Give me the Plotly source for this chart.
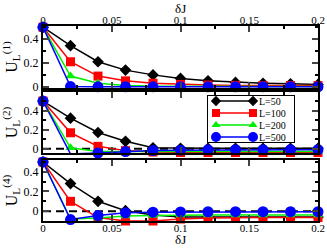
import plotly.graph_objects as go

dJ = [0, 0.02, 0.04, 0.06, 0.08, 0.10, 0.12, 0.14, 0.16, 0.18, 0.20]
labels = ["L=50", "L=100", "L=200", "L=500"]
x_ticks = [0, 0.05, 0.1, 0.15, 0.2]
y_ticks = [0, 0.2, 0.4]

# U_L^(1)
u1_L50 = [0.50, 0.345, 0.21, 0.14, 0.10, 0.07, 0.05, 0.037, 0.03, 0.025, 0.02]
u1_L100 = [0.50, 0.21, 0.09, 0.05, 0.03, 0.02, 0.015, 0.012, 0.01, 0.01, 0.01]
u1_L200 = [0.50, 0.09, 0.03, 0.012, 0.006, 0.004, 0.003, 0.003, 0.003, 0.003, 0.003]
u1_L500 = [0.50, 0.002, 0.0, 0.0, 0.0, 0.0, 0.0, 0.0, 0.0, 0.0, 0.0]

# U_L^(2)
u2_L50 = [0.50, 0.32, 0.17, 0.078, 0.01, 0.005, 0.005, 0.005, 0.005, 0.005, 0.005]
u2_L100 = [0.50, 0.167, 0.025, -0.02, -0.035, -0.04, -0.04, -0.04, -0.04, -0.04, -0.04]
u2_L200 = [0.50, 0.01, -0.03, -0.03, -0.03, -0.03, -0.03, -0.03, -0.03, -0.03, -0.03]
u2_L500 = [0.50, -0.055, -0.045, -0.03, -0.02, -0.015, -0.012, -0.01, -0.01, -0.01, -0.01]

# U_L^(4)
u4_L50 = [0.50, 0.28, 0.10, 0.005, -0.04, -0.06, -0.06, -0.06, -0.06, -0.06, -0.06]
u4_L100 = [0.50, 0.10, -0.065, -0.10, -0.10, -0.08, -0.07, -0.065, -0.065, -0.065, -0.065]
u4_L200 = [0.50, -0.08, -0.07, -0.05, -0.045, -0.04, -0.04, -0.04, -0.04, -0.04, -0.04]
u4_L500 = [0.50, -0.085, -0.045, -0.017, -0.01, -0.008, -0.006, -0.005, -0.005, -0.005, -0.005]

panels = [
    [u1_L50, u1_L100, u1_L200, u1_L500],
    [u2_L50, u2_L100, u2_L200, u2_L500],
    [u4_L50, u4_L100, u4_L200, u4_L500],
]
colors = ["#000000", "#ff0000", "#00ee00", "#0000ff"]
symbols = ["diamond", "square", "triangle-up", "circle"]
msizes = [9, 9, 9, 11]

FONT = "Liberation Serif"
fig = go.Figure()

# compact legend box (Grace style: symbol - line - symbol, then label)
LW, LH = 88, 48
row_y = [42, 30, 18, 6]
fig.add_shape(type="rect", xref="x4", yref="y4", x0=0, x1=LW, y0=0, y1=LH,
              line=dict(color="black", width=2), fillcolor="white", layer="below")

for p, series in enumerate(panels):
    ax = "" if p == 0 else str(p + 1)
    for i, ys in enumerate(series):
        fig.add_trace(go.Scatter(
            x=dJ, y=ys, mode="lines+markers", name=labels[i],
            xaxis="x" + ax, yaxis="y" + ax,
            line=dict(color=colors[i], width=1.5),
            marker=dict(symbol=symbols[i], size=msizes[i], color=colors[i]),
            showlegend=False, cliponaxis=False,
        ))

for i in range(4):
    fig.add_trace(go.Scatter(
        x=[9, 46], y=[row_y[i], row_y[i]], mode="lines+markers",
        xaxis="x4", yaxis="y4", showlegend=False, hoverinfo="skip",
        line=dict(color=colors[i], width=1.5),
        marker=dict(symbol=symbols[i], size=msizes[i] - 1, color=colors[i]),
        cliponaxis=False,
    ))
    fig.add_annotation(x=51, y=row_y[i], xref="x4", yref="y4", text=labels[i],
                       showarrow=False, xanchor="left", yanchor="middle", borderpad=0,
                       font=dict(family=FONT, size=10, color="black"))

H = 195.0
# x axis titles (top and bottom)
fig.add_annotation(x=0.5, y=1 + 26 / H, xref="paper", yref="paper", text="δJ",
                   showarrow=False, xanchor="center", yanchor="top", borderpad=0,
                   font=dict(family=FONT, size=13, color="black"))
fig.add_annotation(x=0.5, y=-27 / H, xref="paper", yref="paper", text="δJ",
                   showarrow=False, xanchor="center", yanchor="bottom", borderpad=0,
                   font=dict(family=FONT, size=13, color="black"))

# dashed zero lines in panels 2 and 3
for ax in ["2", "3"]:
    fig.add_shape(type="line", xref="x" + ax + " domain", yref="y" + ax,
                  x0=0, x1=1, y0=0, y1=0,
                  line=dict(color="black", width=2, dash="8px,5px"), layer="below")

dom_top = [(221 - 88) / H, 1.0]
dom_mid = [(221 - 153) / H, (221 - 92) / H]
dom_bot = [0.0, (221 - 160) / H]

common_x = dict(range=[0, 0.2], tickvals=x_ticks, ticks="inside", ticklen=6, tickwidth=2,
                showline=True, linewidth=2, linecolor="black", mirror="ticks",
                showgrid=False, zeroline=False, automargin=False, ticklabelstandoff=-4,
                minor=dict(dtick=0.025, ticks="inside", ticklen=3, tickwidth=2, tickcolor="black"),
                tickfont=dict(family=FONT, size=11, color="black"))
common_y = dict(tickvals=y_ticks, ticks="inside", ticklen=6, tickwidth=2,
                showline=True, linewidth=2, linecolor="black", mirror="ticks",
                showgrid=False, zeroline=False, automargin=False,
                minor=dict(dtick=0.1, ticks="inside", ticklen=3, tickwidth=2, tickcolor="black"),
                tickfont=dict(family=FONT, size=12, color="black"))

def ytitle(n):
    return dict(text="U<sub>L</sub><sup>(%s)</sup>" % n, font=dict(family=FONT, size=16, color="black"), standoff=4)

fig.update_layout(
    width=327, height=248,
    margin=dict(l=43, r=9, t=26, b=27, autoexpand=False),
    paper_bgcolor="white", plot_bgcolor="white",
    xaxis=dict(common_x, domain=[0, 1], anchor="y", side="top", showticklabels=True),
    xaxis2=dict(common_x, domain=[0, 1], anchor="y2", matches="x", showticklabels=False),
    xaxis3=dict(common_x, domain=[0, 1], anchor="y3", matches="x", showticklabels=True),
    yaxis=dict(common_y, domain=dom_top, anchor="x", range=[-0.01, 0.51], title=ytitle(1)),
    yaxis2=dict(common_y, domain=dom_mid, anchor="x2", range=[-0.045, 0.595], title=ytitle(2)),
    yaxis3=dict(common_y, domain=dom_bot, anchor="x3", range=[-0.1, 0.52], title=ytitle(4)),
    xaxis4=dict(domain=[(207 - 43) / 275, (295 - 43) / 275], range=[0, LW], visible=False,
                anchor="y4", fixedrange=True),
    yaxis4=dict(domain=[(221 - 143) / H, (221 - 95) / H], range=[0, LH], visible=False,
                anchor="x4", fixedrange=True),
    showlegend=False,
)

fig.write_html("out.html", config={"displayModeBar": False},
               post_script="document.body.style.margin='0';")
